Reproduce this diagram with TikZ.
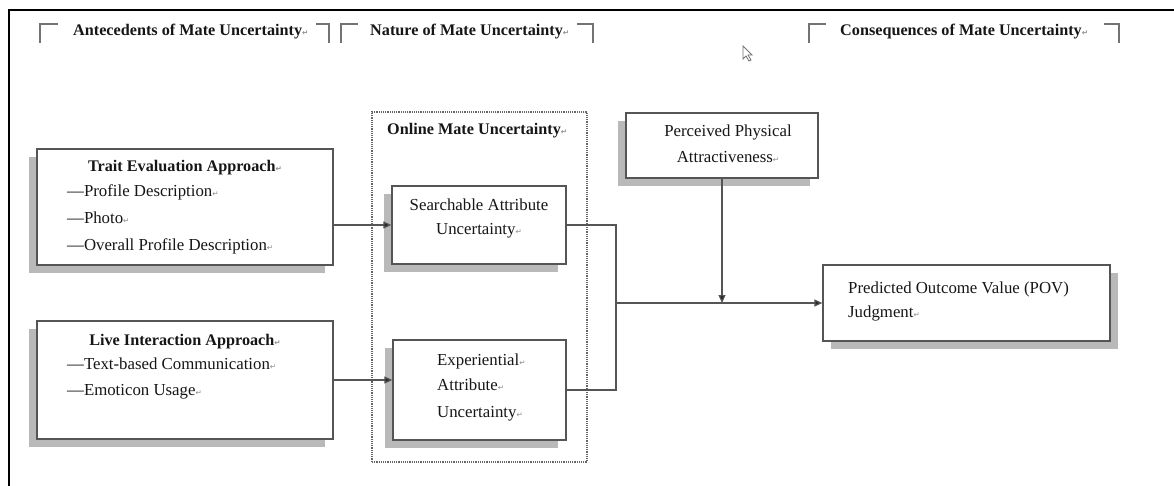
\documentclass[tikz,border=0pt]{standalone}
\usepackage{fontspec}
\setmainfont{Liberation Serif}
\newfontfamily\symfnt{DejaVu Sans}
\usetikzlibrary{arrows.meta,shadows}
\newcommand{\pmk}{{\symfnt\fontsize{7.5}{7.5}\selectfont\textcolor{black!45}{↵}}}
\definecolor{txt}{HTML}{161616}
\definecolor{edge}{HTML}{555555}
\definecolor{shade}{HTML}{B9B9B9}
\tikzset{
  boxL/.style={draw=edge, line width=1.3pt, fill=white, inner sep=0pt,
    drop shadow={shadow xshift=-8pt, shadow yshift=-8pt, fill=shade, opacity=1}},
  boxR/.style={draw=edge, line width=1.3pt, fill=white, inner sep=0pt,
    drop shadow={shadow xshift=8pt, shadow yshift=-8pt, fill=shade, opacity=1}},
  txtn/.style={inner sep=0pt, text=txt, font=\fontsize{16.8}{18}\selectfont},
  boldn/.style={inner sep=0pt, text=txt, font=\fontsize{16.2}{18}\selectfont\bfseries},
  conn/.style={draw=edge, line width=1.2pt},
  arr/.style={conn, -{Triangle[length=8pt,width=7pt,fill=black!85]}},
  brk/.style={draw=black!55, line width=1.5pt},
  dotbox/.style={draw=black!60, line width=1.2pt, densely dotted},
}
\begin{document}
\begin{tikzpicture}[x=1pt,y=-1pt]
\useasboundingbox (0,0) rectangle (1174,486);
% frame
\draw[line width=2.2pt] (9,486) -- (9,10) -- (1174,10);
% header brackets
\draw[brk] (40,43) -- (40,24) -- (58,24);
\draw[brk] (316,24) -- (329,24) -- (329,43);
\draw[brk] (341,43) -- (341,24) -- (358,24);
\draw[brk] (577,24) -- (593,24) -- (593,43);
\draw[brk] (809,43) -- (809,24) -- (826,24);
\draw[brk] (1104,24) -- (1119,24) -- (1119,43);
\node[boldn, anchor=base west] (h1) at (73,36) {Antecedents of Mate Uncertainty\pmk};
\node[boldn, anchor=base west] (h2) at (370,36) {Nature of Mate Uncertainty\pmk};
\node[boldn, anchor=base west] (h3) at (840,36) {Consequences of Mate Uncertainty\pmk};
% cursor
\draw[black!55, line width=0.8pt, fill=white] (743,46) -- (743,59) -- (746,56) -- (749,61) -- (751,60) -- (748,55) -- (752,55) -- cycle;
% dotted group
\node[dotbox, minimum width=215pt, minimum height=350pt, inner sep=0pt] (grp) at (479.5,287) {};
\node[boldn, anchor=base west] (grpt) at (387,135) {Online Mate Uncertainty\pmk};
% boxes
\node[boxL, minimum width=296pt, minimum height=116pt] (trait) at (185,207) {};
\node[boxL, minimum width=296pt, minimum height=118pt] (live) at (185,380) {};
\node[boxL, minimum width=174pt, minimum height=78pt] (search) at (479,225) {};
\node[boxL, minimum width=173pt, minimum height=100pt] (exper) at (479.5,390) {};
\node[boxL, minimum width=192pt, minimum height=65pt] (perc) at (722,145.5) {};
\node[boxR, minimum width=287pt, minimum height=76pt] (pov) at (966.5,303) {};
% texts
\node[boldn, anchor=base] (t0) at (185,172) {Trait Evaluation Approach\pmk};
\node[txtn, anchor=base west] (t1) at (67,197) {—Profile Description\pmk};
\node[txtn, anchor=base west] (t2) at (67,224) {—Photo\pmk};
\node[txtn, anchor=base west] (t3) at (67,251) {—Overall Profile Description\pmk};
\node[boldn, anchor=base] (l0) at (185,345) {Live Interaction Approach\pmk};
\node[txtn, anchor=base west] (l1) at (67,369) {—Text-based Communication\pmk};
\node[txtn, anchor=base west] (l2) at (67,395) {—Emoticon Usage\pmk};
\node[txtn, anchor=base] (s1) at (479,211) {Searchable Attribute};
\node[txtn, anchor=base] (s2) at (479,235) {Uncertainty\pmk};
\node[txtn, anchor=base west] (e1) at (437,365) {Experiential\pmk};
\node[txtn, anchor=base west] (e2) at (437,390) {Attribute\pmk};
\node[txtn, anchor=base west] (e3) at (437,417) {Uncertainty\pmk};
\node[txtn, anchor=base] (p1) at (728,137) {Perceived Physical};
\node[txtn, anchor=base] (p2) at (728,163) {Attractiveness\pmk};
\node[txtn, anchor=base west] (v1) at (848,293) {Predicted Outcome Value (POV)};
\node[txtn, anchor=base west] (v2) at (848,317) {Judgment\pmk};
% connectors
\coordinate (j) at (616,303);
\draw[arr] (trait.east |- search.west) -- (search.west);
\draw[arr] (live.east) -- (live.east -| exper.west);
\draw[conn] (search.east) -| (j) |- (exper.east);
\draw[arr] (j) -- (pov.west |- j);
\draw[arr] (perc.south) -- (perc.south |- j);
\end{tikzpicture}
\end{document}
